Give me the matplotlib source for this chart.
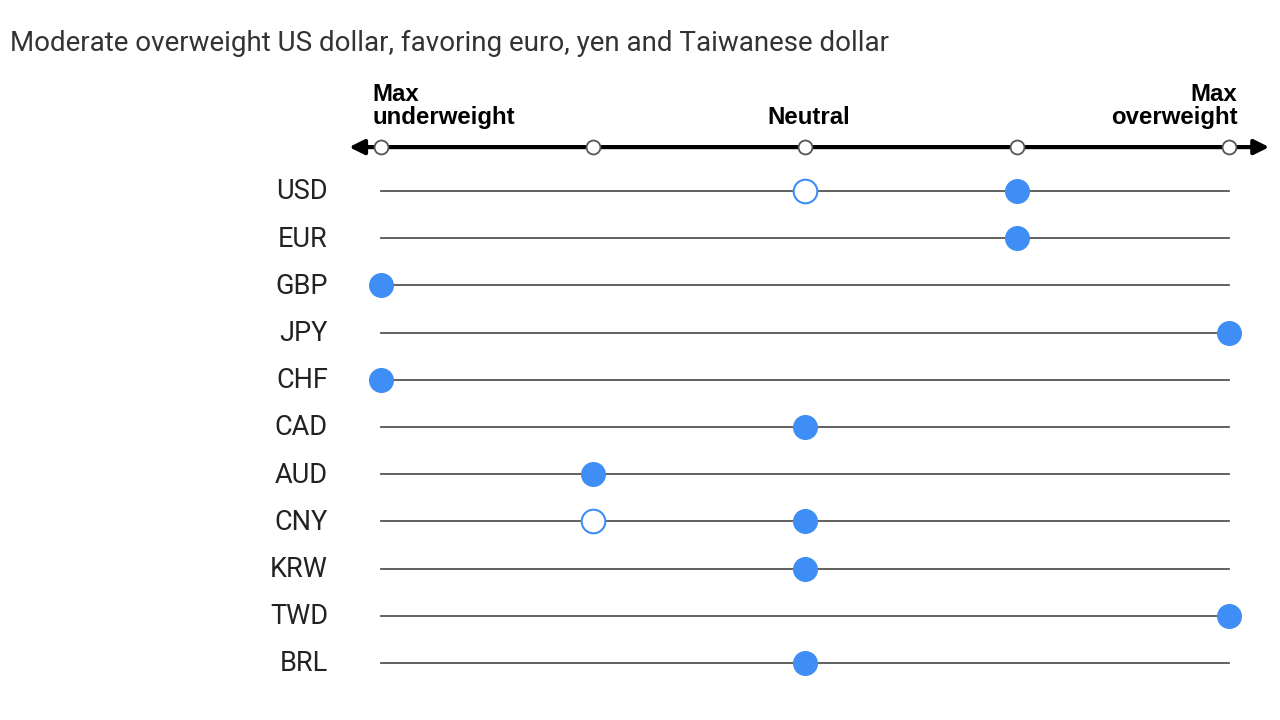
import matplotlib.pyplot as plt

currencies = ['USD', 'EUR', 'GBP', 'JPY', 'CHF', 'CAD', 'AUD', 'CNY', 'KRW', 'TWD', 'BRL']
# -2 = max underweight, 0 = neutral, 2 = max overweight
current = [1, 1, -2, 2, -2, 0, -1, 0, 0, 2, 0]
previous = [0, None, None, None, None, None, None, -1, None, None, None]
scale_ticks = [-2, -1, 0, 1, 2]
scale_labels = {-2: 'Max\nunderweight', 0: 'Neutral', 2: 'Max\noverweight'}
title = 'Moderate overweight US dollar, favoring euro, yen and Taiwanese dollar'

blue = '#3f8ef5'

fig = plt.figure(figsize=(12.8, 7.2), dpi=100)
ax = fig.add_axes([0, 0, 1, 1])
ax.set_xlim(-3.797, 2.241)
ax.set_ylim(11.21, -4.047)
ax.axis('off')

# title
ax.text(-3.75, -3.12, title, fontsize=20, color='#333333', family='Roboto',
        va='center', ha='left')

# scale axis with arrows
axis_y = -0.93
ax.annotate('', xy=(2.19, axis_y), xytext=(-2.15, axis_y),
            arrowprops=dict(arrowstyle='<|-|>', lw=3, color='black',
                            mutation_scale=22, shrinkA=0, shrinkB=0))
ax.plot(scale_ticks, [axis_y] * len(scale_ticks), 'o', ms=10, mfc='white',
        mec='#555555', mew=1.3, zorder=5)
for t, lab in scale_labels.items():
    ha = 'left' if t == -2 else ('right' if t == 2 else 'center')
    xo = -0.04 if t == -2 else (0.04 if t == 2 else 0.02)
    ax.text(t + xo, axis_y - 0.38, lab, fontsize=17.3, fontweight='bold',
            family='Liberation Sans', ha=ha, va='bottom', linespacing=1.0)

# rows
for i, cur in enumerate(currencies):
    ax.plot([-2, 2], [i, i], color='#555555', lw=1.3, zorder=1)
    ax.text(-2.25, i + 0.02, cur, fontsize=19.5, color='#222222', family='Roboto',
            ha='right', va='center')
    if previous[i] is not None:
        ax.plot(previous[i], i, 'o', ms=17, mfc='white', mec=blue, mew=1.5, zorder=3)
    ax.plot(current[i], i, 'o', ms=17, color=blue, mec=blue, zorder=4)

fig.savefig('out.png', dpi=100)
